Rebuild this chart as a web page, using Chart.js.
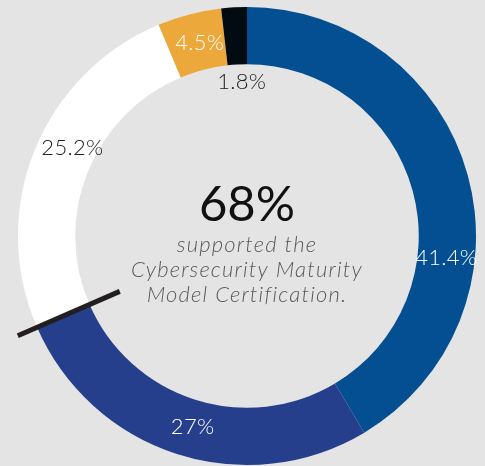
<!DOCTYPE html>
<html>
<head>
<meta charset="utf-8">
<script src="https://cdn.jsdelivr.net/npm/chart.js@4"></script>
<style>
  html, body { margin: 0; padding: 0; background: #e4e4e4; }
  #wrap { width: 485px; height: 466px; position: relative; }
</style>
</head>
<body>
<div id="wrap"><canvas id="myChart"></canvas></div>
<script>
  const labels = ['Supported', 'Supported (other)', 'Not sure', 'Did not support', 'No answer']
  const values = [41.4, 27, 25.2, 4.5, 1.8]
  const valueText = ['41.4%', '27%', '25.2%', '4.5%', '1.8%']
  const centerBig = '68%'
  const centerLines = ['supported the', 'Cybersecurity Maturity', 'Model Certification.']

  const colors = ['#034f91', '#263f8d', '#ffffff', '#eda83b', '#020a12']
  const labelColors = ['#ffffff', '#ffffff', '#222222', '#ffffff', '#222222']
  // where along each slice the label sits (0..1) and how far out (0 = inner edge, 1 = outer)
  const labelFrac = [0.645, 0.48, 0.555, 0.55, 0.7]
  const labelRad = [0.5, 0.47, 0.42, 0.47, -0.3]

  const ctx = document.getElementById('myChart')

  const extras = {
    id: 'extras',
    afterDatasetsDraw(chart) {
      const c = chart.ctx
      const arcs = chart.getDatasetMeta(0).data
      const cx = arcs[0].x, cy = arcs[0].y
      const inner = arcs[0].innerRadius, outer = arcs[0].outerRadius
      const w = outer - inner

      // black tick across the boundary between 27% and 25.2%
      const a = arcs[1].endAngle
      c.save()
      c.strokeStyle = '#231f20'
      c.lineWidth = 5
      c.beginPath()
      c.moveTo(cx + Math.cos(a) * (outer + 21), cy + Math.sin(a) * (outer + 21))
      c.lineTo(cx + Math.cos(a) * (inner - 33), cy + Math.sin(a) * (inner - 33))
      c.stroke()

      // slice labels
      c.font = '300 22px Lato'
      c.letterSpacing = '0.3px'
      c.textAlign = 'center'
      c.textBaseline = 'middle'
      arcs.forEach((arc, i) => {
        const ang = arc.startAngle + (arc.endAngle - arc.startAngle) * labelFrac[i]
        const r = inner + w * labelRad[i]
        c.fillStyle = labelColors[i]
        c.fillText(valueText[i], cx + Math.cos(ang) * r, cy + Math.sin(ang) * r)
      })

      // center text
      c.letterSpacing = '0px'
      c.fillStyle = '#111111'
      c.font = '400 49px Lato'
      c.fillText(centerBig, cx, cy - 31)
      c.fillStyle = '#5a5a5a'
      c.font = 'italic 300 22px Lato'
      c.letterSpacing = '1.2px'
      centerLines.forEach((t, i) => {
        c.fillText(t, cx, cy + 9 + i * 25)
      })
      c.restore()
    }
  }

  new Chart(ctx, {
    type: 'doughnut',
    data: {
      labels: labels,
      datasets: [{
        data: values,
        backgroundColor: colors,
        borderWidth: 0
      }]
    },
    options: {
      responsive: true,
      maintainAspectRatio: false,
      animation: false,
      cutout: '75%',
      layout: { padding: { left: 18, right: 9, top: 7, bottom: 1 } },
      plugins: {
        legend: { display: false },
        tooltip: { enabled: false }
      }
    },
    plugins: [extras]
  })
</script>
</body>
</html>
